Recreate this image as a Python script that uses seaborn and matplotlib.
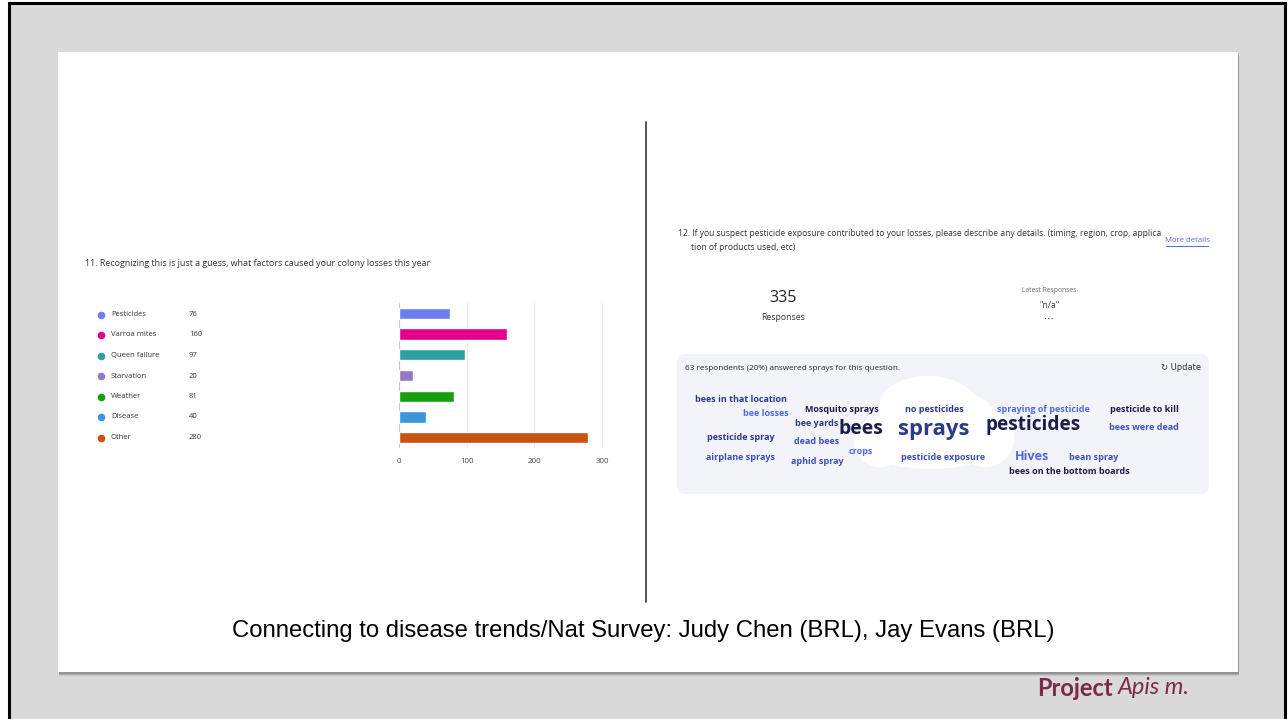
import matplotlib
matplotlib.use("Agg")
import matplotlib.pyplot as plt
from matplotlib.patches import Rectangle, FancyBboxPatch, Ellipse
import seaborn as sns
import pandas as pd

# ---- data -------------------------------------------------------------
factors = ["Pesticides", "Varroa mites", "Queen failure", "Starvation",
           "Weather", "Disease", "Other"]
counts = [76, 160, 97, 20, 81, 40, 280]
factor_colors = ["#6b7eef", "#e3008c", "#2ca0a0", "#9479c4",
                 "#15a00f", "#3a95dc", "#ca5211"]
x_ticks = [0, 100, 200, 300]

q11_title = "11. Recognizing this is just a guess, what factors caused your colony losses this year"
q12_line1 = "12. If you suspect pesticide exposure contributed to your losses, please describe any details. (timing, region, crop, applica"
q12_line2 = "tion of products used, etc)"
response_count = 335
latest_response = '"n/a"'
summary_text = "63 respondents (20%) answered sprays for this question."

# word cloud entries: word, relative weight, tone
cloud_words = [
    ("bees in that location", 1, "navy"), ("bee losses", 1, "light"),
    ("Mosquito sprays", 1, "dark"), ("bee yards", 1, "navy"),
    ("bees", 2.15, "dark"), ("sprays", 2.45, "navy"), ("no pesticides", 1, "navy"),
    ("spraying of pesticide", 1, "light"), ("pesticides", 2.1, "dark"),
    ("pesticide to kill", 1, "dark"), ("bees were dead", 1, "mid"),
    ("pesticide spray", 1, "navy"), ("dead bees", 1, "mid"),
    ("crops", 1, "light"), ("airplane sprays", 1, "mid"),
    ("aphid spray", 1, "mid"), ("pesticide exposure", 1, "mid"),
    ("Hives", 1.4, "light"), ("bean spray", 1, "mid"),
    ("bees on the bottom boards", 1, "dark"),
]
cloud_pos = [
    (741, 399), (766, 413), (842, 409), (817, 423), (861, 429), (934, 429),
    (934, 409), (1043, 409), (1033, 425), (1144, 409), (1144, 428),
    (741, 438), (817, 442), (861, 452), (741, 457), (817, 461), (943, 457),
    (1032, 456), (1094, 457), (1069, 471),
]
tone_colors = {"dark": "#1b1e4b", "navy": "#2c3a8c", "mid": "#3f4fb8",
               "light": "#5169e6"}

W, H = 1288, 719
fig = plt.figure(figsize=(W / 100, H / 100), dpi=100)
fig.patch.set_facecolor("white")
sns.set_style("white")
UI = ["Open Sans", "DejaVu Sans"]

bg = fig.add_axes([0, 0, 1, 1])
bg.set_xlim(0, W)
bg.set_ylim(H, 0)
bg.axis("off")

# frame and grey backdrop
bg.add_patch(Rectangle((9, 3), 1276, 730, fc="#d9d9d9", ec="black", lw=2.2, zorder=0))
# slide shadow and slide
for off, a in [(4, 0.08), (3, 0.12), (2, 0.16)]:
    bg.add_patch(Rectangle((58 + off * 0.3, 52 + off), 1180, 620, fc="black",
                           alpha=a, lw=0, zorder=1))
bg.add_patch(Rectangle((58, 52), 1180, 620, fc="white", lw=0, zorder=2))

# divider
bg.plot([646, 646], [122, 602], color="#444444", lw=1.3, zorder=3)

# ---- left: question 11 --------------------------------------------------
bg.text(85, 263, q11_title, fontsize=6.4, family=UI, color="#333333",
        va="center", zorder=4)
for i, (f, c, col) in enumerate(zip(factors, counts, factor_colors)):
    y = 314.5 + i * 20.5
    bg.scatter([101], [y], s=30, color=col, zorder=4, lw=0)
    bg.text(111, y, f, fontsize=5.5, family=UI, color="#333333", va="center", zorder=4)
    bg.text(189, y, str(c), fontsize=5.5, family=UI, color="#333333", va="center", zorder=4)

px_per = 203 / 300
x_max = 302
ax = fig.add_axes([399 / W, 1 - 448 / H, x_max * px_per / W, 145 / H])
df = pd.DataFrame({"factor": factors, "count": counts})
sns.barplot(data=df, y="factor", x="count", hue="factor", palette=factor_colors,
            orient="h", width=0.55, ax=ax, legend=False, saturation=1, zorder=3)
ax.set_xlim(0, x_max)
ax.set_xticks(x_ticks)
ax.set_xticklabels([str(t) for t in x_ticks], fontsize=5.7, family=UI, color="#444444")
ax.tick_params(axis="x", length=0, pad=7)
ax.set_yticks([])
ax.set_xlabel("")
ax.set_ylabel("")
for s in ax.spines.values():
    s.set_visible(False)
for t in x_ticks:
    ax.axvline(t, color="#c8c8c8" if t == 0 else "#e8e8e8", lw=0.9, zorder=1)
ax.patch.set_alpha(0)

# ---- right: question 12 -------------------------------------------------
bg.text(678, 234, q12_line1, fontsize=6.15, family=UI, color="#333333", va="center", zorder=4)
bg.text(691, 247, q12_line2, fontsize=6.15, family=UI, color="#333333", va="center", zorder=4)
bg.text(1187, 241, "More details", fontsize=5.6, family=UI, color="#4f6bed",
        va="center", ha="center", zorder=4)
bg.plot([1166, 1208], [245.5, 245.5], color="#4f6bed", lw=0.7, zorder=4)

bg.text(783, 298, str(response_count), fontsize=11.5, family=UI, color="#222222",
        va="center", ha="center", zorder=4)
bg.text(783, 317, "Responses", fontsize=6.2, family=UI, color="#333333",
        va="center", ha="center", zorder=4)
bg.text(1049, 291, "Latest Responses", fontsize=4.9, family=UI, color="#666666",
        va="center", ha="center", zorder=4)
bg.text(1049, 306, latest_response, fontsize=6.2, family=UI, color="#333333",
        va="center", ha="center", zorder=4)
bg.text(1049, 319, "\u22ef", fontsize=7, family=["DejaVu Sans"], color="#333333",
        va="center", ha="center", zorder=4)

# word cloud card
bg.add_patch(FancyBboxPatch((677, 354), 532, 140, boxstyle="round,pad=0,rounding_size=8",
                            fc="#f3f4fa", ec="none", zorder=3))
bg.text(685, 368, summary_text, fontsize=5.9, family=UI, color="#222222",
        va="center", zorder=4)
bg.text(1201, 367, "\u21bb Update", fontsize=6.0, family=["DejaVu Sans"], color="#333333",
        va="center", ha="right", zorder=4)

# white cloud shape behind the largest words
for cx, cy, w, h in [(928, 407, 100, 62), (930, 440, 150, 58), (880, 442, 52, 50),
                     (985, 438, 58, 58), (960, 418, 70, 50)]:
    bg.add_patch(Ellipse((cx, cy), w, h, fc="white", ec="none", zorder=3.5))

for (word, weight, tone), (x, y) in zip(cloud_words, cloud_pos):
    bg.text(x, y, word, fontsize=6.5 * weight, family=UI, fontweight="bold",
            color=tone_colors[tone], va="center", ha="center", zorder=4)

# ---- footer ---------------------------------------------------------------
bg.text(643, 631, "Connecting to disease trends/Nat Survey: Judy Chen (BRL), Jay Evans (BRL)",
        fontsize=17.2, family=["Liberation Sans", "DejaVu Sans"], color="black",
        va="center", ha="center", zorder=4)

t1 = bg.text(1037, 688, "Project", fontsize=17, family=["Lato", "DejaVu Sans"],
             fontweight="bold", color="#7b2a4a", va="center", zorder=4)
fig.canvas.draw()
bb = t1.get_window_extent()
x_end = bb.x1
bg.annotate("Apis m.", xy=(x_end + 5, H - 688), xycoords="figure pixels",
            fontsize=17, family=["Lato", "DejaVu Sans"], fontstyle="italic",
            fontweight="normal", color="#7b2a4a", va="center", zorder=4)

fig.savefig("out.png", dpi=100)
